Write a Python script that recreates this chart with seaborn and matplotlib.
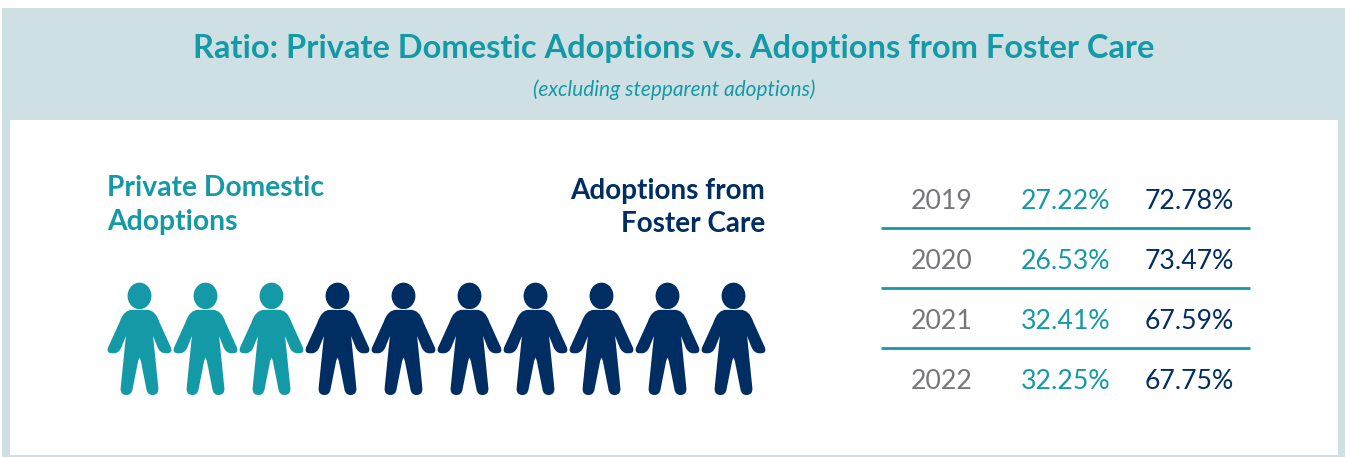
import seaborn as sns
import pandas as pd
import matplotlib.pyplot as plt
import numpy as np
from matplotlib.path import Path
from matplotlib.patches import Rectangle

TEAL = "#149AA6"
NAVY = "#002D62"
GRAY = "#76777A"
BAND = "#CFE0E4"

years = ["2019", "2020", "2021", "2022"]
private_pct = ["27.22%", "26.53%", "32.41%", "32.25%"]
foster_pct = ["72.78%", "73.47%", "67.59%", "67.75%"]
people_private = 3
people_foster = 7

W, H = 1345, 457


def person_marker():
    # right half of the outline, drawn from the zoomed reference, then mirrored
    mid = 206
    right = [
        (Path.MOVETO, (0, 118)),
        (Path.LINETO, (22, 118)),
        (Path.CURVE3, (48, 118)), (Path.CURVE3, (60, 155)),
        (Path.LINETO, (95, 232)),
        (Path.CURVE3, (100, 248)), (Path.CURVE3, (85, 249)),
        (Path.LINETO, (75, 249)),
        (Path.CURVE3, (62, 247)), (Path.CURVE3, (55, 232)),
        (Path.LINETO, (41, 197)),
        (Path.LINETO, (57, 355)),
        (Path.CURVE3, (58, 375)), (Path.CURVE3, (39, 375)),
        (Path.CURVE3, (24, 375)), (Path.CURVE3, (21, 358)),
        (Path.LINETO, (4, 272)),
        (Path.CURVE3, (0, 262)), (Path.CURVE3, (0, 262)),
    ]
    codes = [c for c, _ in right]
    pts = [p for _, p in right]
    left_pts = [(-x, y) for x, y in reversed(pts[:-1])]
    left_codes = []
    for c in reversed(codes[1:]):
        left_codes.append(c)
    verts = pts + left_pts + [(0, 118)]
    all_codes = codes + left_codes + [Path.CLOSEPOLY]
    verts = [(x, mid - y) for x, y in verts]
    body = Path(verts, all_codes)
    head = Path.unit_circle()
    head = Path(head.vertices * [36, 40] + [0, mid - 76], head.codes)
    return Path.make_compound_path(body, head)


def px_axes(fig, left, top, right, bottom):
    return fig.add_axes([left / W, 1 - bottom / H, (right - left) / W, (bottom - top) / H])


sns.set_theme(style="white")
plt.rcParams["font.family"] = ["Lato", "DejaVu Sans"]

fig = plt.figure(figsize=(W / 100, H / 100), dpi=100, facecolor="white")

bg = fig.add_axes([0, 0, 1, 1])
bg.set_xlim(0, W)
bg.set_ylim(H, 0)
bg.axis("off")
bg.add_patch(Rectangle((2, 8), W - 2, H - 8, color=BAND, lw=0))
bg.add_patch(Rectangle((10, 120), 1328, 335, color="white", lw=0))

bg.text(673.5, 48.5, "Ratio: Private Domestic Adoptions vs. Adoptions from Foster Care",
        color=TEAL, fontsize=23.5, fontweight="bold", ha="center", va="center")
bg.text(674, 89.5, "(excluding stepparent adoptions)", color=TEAL, fontsize=15,
        fontstyle="italic", ha="center", va="center")

bg.text(107, 188, "Private Domestic", color=TEAL, fontsize=20.3, fontweight="bold", va="center")
bg.text(107, 222, "Adoptions", color=TEAL, fontsize=20.3, fontweight="bold", va="center")
bg.text(765, 191, "Adoptions from", color=NAVY, fontsize=20.1, fontweight="bold", va="center", ha="right")
bg.text(765, 224, "Foster Care", color=NAVY, fontsize=20.1, fontweight="bold", va="center", ha="right")

# pictogram, one marker per person
n_people = people_private + people_foster
df_people = pd.DataFrame({
    "person": np.arange(n_people),
    "row": 0,
    "group": ["Private"] * people_private + ["Foster"] * people_foster,
})
ax = px_axes(fig, 100, 270.5, 780, 407.5)
ax.patch.set_alpha(0)
sns.scatterplot(data=df_people, x="person", y="row", hue="group",
                palette={"Private": TEAL, "Foster": NAVY}, marker=person_marker(),
                s=6584, linewidth=0, legend=False, ax=ax, clip_on=False)
ax.set_xlim(-39.5 / 66, (780 - 139.5) / 66)
ax.set_ylim(-1, 1)
ax.axis("off")

# table
for i in range(len(years)):
    y = 201.5 + 60 * i
    bg.text(942, y, years[i], color=GRAY, fontsize=19.2, ha="center", va="center")
    bg.text(1066, y, private_pct[i], color=TEAL, fontsize=19.2, ha="center", va="center")
    bg.text(1189, y, foster_pct[i], color=NAVY, fontsize=19.2, ha="center", va="center")
    if i < len(years) - 1:
        bg.plot([881, 1250], [y + 26.5, y + 26.5], color=TEAL, lw=2, solid_capstyle="butt")

fig.savefig("out.png", dpi=100)
